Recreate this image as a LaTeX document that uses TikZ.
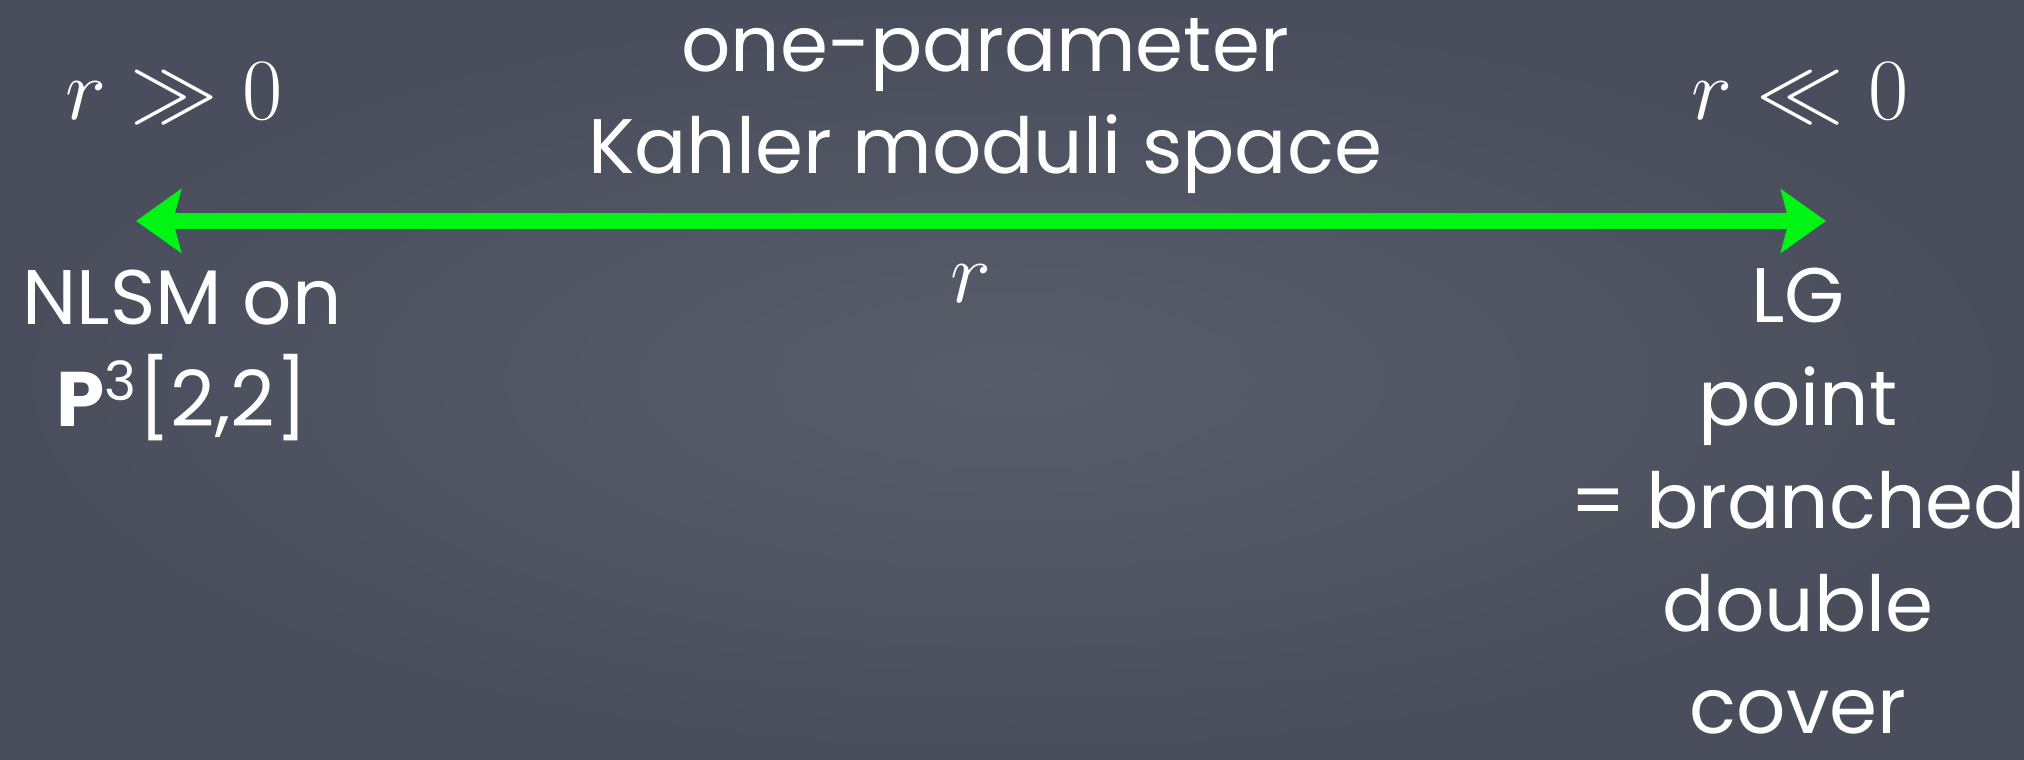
\documentclass[tikz,border=0pt]{standalone}
\usepackage{amsmath}
\usepackage{amssymb}
\usepackage{fontspec}
\setmainfont{Poppins}
\usetikzlibrary{arrows.meta}
\definecolor{board}{RGB}{74,78,92}
\definecolor{boardlight}{RGB}{88,93,106}
\definecolor{chalkgreen}{RGB}{0,245,20}
\tikzset{
  lbl/.style={text=white,font=\fontsize{22}{29.3}\selectfont,align=center,inner sep=0pt},
  mth/.style={text=white,font=\fontsize{28}{32}\selectfont,inner sep=0pt},
  modarrow/.style={chalkgreen,line width=4.5pt,
    {Stealth[length=0.45cm,width=0.63cm,inset=0.08cm]}-{Stealth[length=0.45cm,width=0.63cm,inset=0.08cm]}}
}
\begin{document}
\begin{tikzpicture}
\shade[inner color=boardlight,outer color=board] (0,0) rectangle (20.24,7.6);
\useasboundingbox (0,0) rectangle (20.24,7.6);
\coordinate (geom) at (1.36,5.39);
\coordinate (lg) at (18.26,5.39);
\draw[modarrow] (geom) -- (lg);
\node[mth,anchor=base] (rpos) at (1.74,6.40) {\(r\gg 0\)};
\node[mth,anchor=base] (rneg) at (18.00,6.40) {\(r\ll 0\)};
\node[mth,anchor=base] (rvar) at (9.71,4.57) {\(r\)};
% multi-line nodes: base is the last line
\node[lbl,anchor=base] (title) at (9.85,5.86) {one-parameter\\Kahler moduli space};
\node[lbl,anchor=base] (nlsm) at (1.82,3.33) {NLSM on\\\textbf{P}\textsuperscript{3}[2,2]};
\node[lbl,anchor=base] (lgpt) at (17.98,0.26) {LG\\point\\= branched\\double\\cover};
\end{tikzpicture}
\end{document}
